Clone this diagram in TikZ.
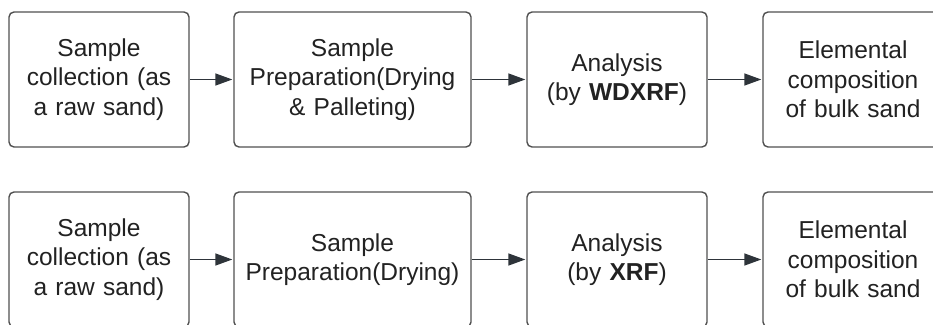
\documentclass[tikz,border=0pt]{standalone}
\usepackage{fontspec}
\setmainfont{Liberation Sans}
\usetikzlibrary{arrows.meta}
\definecolor{boxline}{HTML}{505050}
\definecolor{inkdark}{HTML}{222222}
\definecolor{arrowdark}{HTML}{2E343A}
\tikzset{
  stagebox/.style={draw=boxline, line width=1.4pt, fill=white, rounded corners=5pt,
    minimum height=135pt, inner sep=0pt, align=center, text=inkdark,
    font=\fontsize{24.5pt}{29.5pt}\selectfont},
  narrowbox/.style={stagebox, minimum width=180pt, text width=176pt},
  widebox/.style={stagebox, minimum width=237pt, text width=233pt},
  flowarrow/.style={draw=arrowdark, line width=1.4pt,
    -{Triangle[length=17pt,width=12pt]}, shorten >=1pt}
}
\begin{document}
\begin{tikzpicture}[x=1pt,y=-1pt]
  \useasboundingbox (0,0) rectangle (933,324);
  \clip (0,0) rectangle (933,324);
  \fill[white] (0,0) rectangle (933,324);

  % first route: WDXRF
  \node[narrowbox] (a1) at (99,79.5) {Sample\\collection (as\\a raw sand)};
  \node[widebox]   (b1) at (352.5,79.5) {Sample\\Preparation(Drying\\\& Palleting)};
  \node[narrowbox] (c1) at (617,79.5) {Analysis\\(by \textbf{WDXRF})};
  \node[narrowbox] (d1) at (853,79.5) {Elemental\\composition\\of bulk sand};

  % second route: XRF
  \node[narrowbox] (a2) at (99,259.5) {Sample\\collection (as\\a raw sand)};
  \node[widebox]   (b2) at (352.5,259.5) {Sample\\Preparation(Drying)};
  \node[narrowbox] (c2) at (617,259.5) {Analysis\\(by \textbf{XRF})};
  \node[narrowbox] (d2) at (853,259.5) {Elemental\\composition\\of bulk sand};

  \draw[flowarrow] (a1) -- (b1);
  \draw[flowarrow] (b1) -- (c1);
  \draw[flowarrow] (c1) -- (d1);
  \draw[flowarrow] (a2) -- (b2);
  \draw[flowarrow] (b2) -- (c2);
  \draw[flowarrow] (c2) -- (d2);
\end{tikzpicture}
\end{document}
